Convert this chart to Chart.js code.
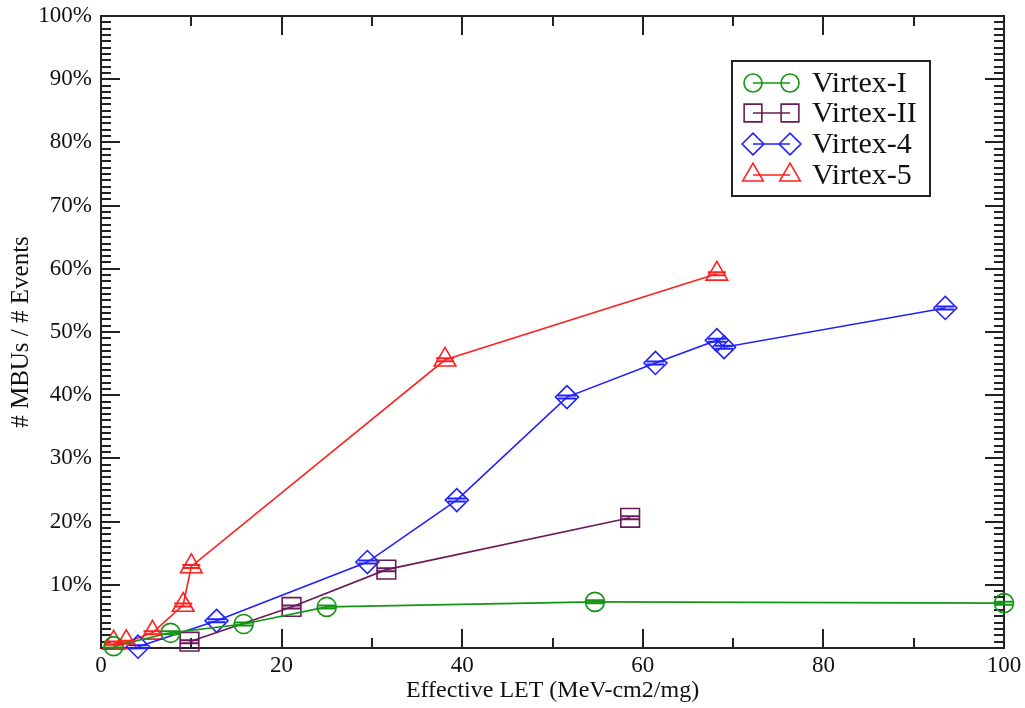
<!DOCTYPE html>
<html>
<head>
<meta charset="utf-8">
<script src="https://cdn.jsdelivr.net/npm/chart.js@4/dist/chart.umd.min.js"></script>
<style>
  html, body { margin: 0; padding: 0; background: #fff; }
  #wrap { width: 1025px; height: 708px; }
</style>
</head>
<body>
<div id="wrap"><canvas id="c" width="1025" height="708"></canvas></div>
<script>
// Effective LET (MeV-cm2/mg) vs share of events that are MBUs (%)
const v1LET = [1.4, 7.7, 15.8, 25.0, 54.7, 100];
const v1MBU = [0.3, 2.4, 3.8, 6.5, 7.3, 7.1];

const v2LET = [9.8, 21.1, 31.6, 58.6];
const v2MBU = [1.0, 6.5, 12.4, 20.6];

const v4LET = [4.1, 12.8, 29.5, 39.4, 51.6, 61.4, 68.2, 69.0, 93.5];
const v4MBU = [0.2, 4.3, 13.6, 23.4, 39.7, 45.1, 48.7, 47.6, 53.8];

const v5LET = [1.4, 2.8, 5.7, 9.1, 10.0, 38.1, 68.2];
const v5MBU = [0.8, 0.9, 2.4, 6.8, 12.9, 45.6, 59.2];

const seriesNames = ['Virtex-I', 'Virtex-II', 'Virtex-4', 'Virtex-5'];
const xTicks = [0, 20, 40, 60, 80, 100];
const yTicks = [0, 10, 20, 30, 40, 50, 60, 70, 80, 90, 100];

const FONT = 'Liberation Serif';
const colors = ['#139613', '#6a1a5a', '#2020ff', '#ff2020'];
const shapes = ['circle', 'rect', 'rectRot', 'triangle'];
const radii = [9.5, 13.2, 11.5, 12.5];

const pts = (xs, ys) => xs.map((x, i) => ({ x, y: ys[i] }));

function mkSet(i, xs, ys) {
  return {
    label: seriesNames[i], data: pts(xs, ys),
    borderColor: colors[i], borderWidth: 1.6, tension: 0, fill: false,
    pointStyle: shapes[i], pointRadius: radii[i], pointHoverRadius: radii[i],
    pointBorderColor: colors[i], pointBackgroundColor: 'rgba(0,0,0,0)', pointBorderWidth: 1.6,
    clip: false,
  };
}

// own marker drawing for the legend
function marker(ctx, shape, x, y, r) {
  ctx.beginPath();
  if (shape === 'circle') ctx.arc(x, y, r, 0, Math.PI * 2);
  else if (shape === 'rect') { const s = r * Math.SQRT1_2; ctx.rect(x - s, y - s, 2 * s, 2 * s); }
  else if (shape === 'rectRot') { ctx.moveTo(x - r, y); ctx.lineTo(x, y - r); ctx.lineTo(x + r, y); ctx.lineTo(x, y + r); ctx.closePath(); }
  else { for (let k = 0; k < 3; k++) { const a = k * 2 * Math.PI / 3; const px = x + Math.sin(a) * r, py = y - Math.cos(a) * r; k ? ctx.lineTo(px, py) : ctx.moveTo(px, py); } ctx.closePath(); }
  ctx.stroke();
}

const frameTicks = {
  id: 'frameTicks',
  beforeDatasetsDraw(chart) {
    const { ctx, chartArea: a, scales: { x, y } } = chart;
    ctx.save();
    ctx.strokeStyle = '#222'; ctx.lineWidth = 2;
    ctx.strokeRect(a.left, a.top, a.right - a.left, a.bottom - a.top);
    ctx.beginPath();
    for (let v = 0; v <= 100; v += 1) {
      const py = Math.round(y.getPixelForValue(v));
      const len = v % 10 === 0 ? 19 : 10;
      ctx.moveTo(a.left, py); ctx.lineTo(a.left + len, py);
      ctx.moveTo(a.right, py); ctx.lineTo(a.right - len, py);
    }
    for (let v = 0; v <= 100; v += 10) {
      const px = Math.round(x.getPixelForValue(v));
      const len = v % 20 === 0 ? 19 : 10;
      ctx.moveTo(px, a.bottom); ctx.lineTo(px, a.bottom - len);
      ctx.moveTo(px, a.top); ctx.lineTo(px, a.top + len);
    }
    ctx.stroke();
    ctx.restore();
  },
  afterDatasetsDraw(chart) {
    const { ctx } = chart;
    ctx.save();
    // small error-bar caps across each marker
    chart.data.datasets.forEach((ds, i) => {
      const meta = chart.getDatasetMeta(i);
      ctx.strokeStyle = ds.borderColor; ctx.lineWidth = 2;
      ctx.beginPath();
      meta.data.forEach(el => {
        ctx.moveTo(el.x - 9, el.y - 1.5); ctx.lineTo(el.x + 9, el.y - 1.5);
        ctx.moveTo(el.x - 9, el.y + 1.5); ctx.lineTo(el.x + 9, el.y + 1.5);
      });
      ctx.stroke();
    });
    // legend box
    const L = 732, T = 61, R = 930, B = 196;
    ctx.fillStyle = '#fff'; ctx.fillRect(L, T, R - L, B - T);
    ctx.strokeStyle = '#222'; ctx.lineWidth = 2; ctx.strokeRect(L, T, R - L, B - T);
    const rows = [83, 113, 144, 175];
    chart.data.datasets.forEach((ds, i) => {
      const yy = rows[i];
      ctx.strokeStyle = ds.borderColor; ctx.lineWidth = 1.6;
      ctx.beginPath(); ctx.moveTo(753, yy); ctx.lineTo(790, yy); ctx.stroke();
      marker(ctx, shapes[i], 753, yy, radii[i] * 0.95);
      marker(ctx, shapes[i], 790, yy, radii[i] * 0.95);
      ctx.fillStyle = '#111'; ctx.font = '30px "' + FONT + '"';
      ctx.textBaseline = 'middle'; ctx.textAlign = 'left';
      ctx.fillText(ds.label, 812, yy + 1);
    });
    ctx.restore();
  }
};

new Chart(document.getElementById('c').getContext('2d'), {
  type: 'line',
  data: {
    datasets: [
      mkSet(0, v1LET, v1MBU),
      mkSet(1, v2LET, v2MBU),
      mkSet(2, v4LET, v4MBU),
      mkSet(3, v5LET, v5MBU),
    ]
  },
  options: {
    responsive: false, animation: false,
    layout: { padding: { top: 16, right: 21, left: 0, bottom: 0 } },
    plugins: { legend: { display: false }, tooltip: { enabled: false } },
    scales: {
      x: {
        type: 'linear', min: 0, max: 100,
        afterFit(s) { s.height = 60; s.paddingLeft = 0; s.paddingRight = 0; },
        afterBuildTicks(s) { s.ticks = xTicks.map(v => ({ value: v })); },
        grid: { display: false, drawTicks: false }, border: { display: false },
        ticks: { color: '#111', padding: 4, maxRotation: 0, font: { family: FONT, size: 23 } },
        title: { display: true, text: 'Effective LET (MeV-cm2/mg)', color: '#111', padding: { top: 0, bottom: 3 }, font: { family: FONT, size: 24 } },
      },
      y: {
        type: 'linear', min: 0, max: 100,
        afterFit(s) { s.width = 101; s.paddingTop = 0; s.paddingBottom = 0; },
        afterBuildTicks(s) { s.ticks = yTicks.map(v => ({ value: v })); },
        grid: { display: false, drawTicks: false }, border: { display: false },
        ticks: { color: '#111', padding: 9, font: { family: FONT, size: 23 }, callback: v => v === 0 ? '' : v + '%' },
        title: { display: true, text: '# MBUs / # Events', color: '#111', padding: { top: 6, bottom: 0 }, font: { family: FONT, size: 25 } },
      }
    }
  },
  plugins: [frameTicks]
});
</script>
</body>
</html>
